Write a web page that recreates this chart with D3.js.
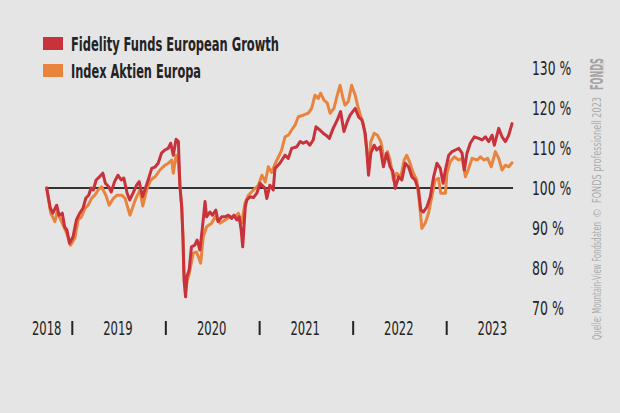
<!DOCTYPE html>
<html>
<head>
<meta charset="utf-8">
<script src="https://cdnjs.cloudflare.com/ajax/libs/d3/7.8.5/d3.min.js"></script>
<style>
  html, body { margin: 0; padding: 0; background: #e5e5e5; }
  svg { display: block; }
  text { font-family: 'Liberation Sans Narrow', 'DejaVu Sans Condensed', 'Roboto', sans-serif; }
</style>
</head>
<body>
<svg id="chart" width="620" height="413"></svg>
<script>
const seriesNames = ["Fidelity Funds European Growth", "Index Aktien Europa"];
const seriesColors = ["#c8323a", "#e8843e"];

const fidelity = [
["2018-09-23",100],["2018-10-07",95],["2018-10-17",93.7],["2018-11-01",95.7],["2018-11-10",93.2],["2018-11-23",93.7],["2018-12-02",90.3],["2018-12-11",89.5],["2018-12-21",86.2],
["2019-01-04",87.8],["2019-01-17",92],["2019-01-30",93.7],["2019-02-12",95],["2019-02-23",97.5],["2019-03-06",98.2],["2019-03-15",100],["2019-03-24",99.5],["2019-04-04",102],["2019-04-17",102.8],["2019-04-30",103.7],["2019-05-10",101.2],["2019-05-23",100.3],["2019-06-02",99],["2019-06-15",101.6],["2019-06-28",103.2],["2019-07-11",102],["2019-07-21",102.5],["2019-08-03",98.7],["2019-08-13",97],["2019-08-26",98.7],["2019-09-09",100.7],["2019-09-19",101.6],["2019-10-02",97.8],["2019-10-11",99.5],["2019-10-24",102],["2019-11-07",104.9],["2019-11-19",105.2],["2019-12-02",106.2],["2019-12-15",108.7],["2019-12-28",109.5],
["2020-01-10",109.9],["2020-01-20",111.2],["2020-01-30",108.2],["2020-02-10",112.2],["2020-02-19",111.6],["2020-02-25",100.3],["2020-03-03",95.3],["2020-03-08",87],["2020-03-12",77],["2020-03-18",72.8],["2020-03-23",77.8],["2020-04-01",79.5],["2020-04-10",85.3],["2020-04-23",85.7],["2020-05-02",87],["2020-05-13",84.5],["2020-05-23",90.3],["2020-06-02",96.6],["2020-06-08",92.8],["2020-06-21",94],["2020-07-01",93.2],["2020-07-14",94.5],["2020-07-23",91.6],["2020-08-06",92.8],["2020-08-19",92.8],["2020-09-01",93.2],["2020-09-14",92.4],["2020-09-23",93.2],["2020-10-04",92],["2020-10-13",92.8],["2020-10-21",89.5],["2020-10-27",85.3],["2020-11-06",95.3],["2020-11-12",97],["2020-11-25",97.8],["2020-12-08",97.6],["2020-12-21",98.7],
["2021-01-03",101.2],["2021-01-22",99.9],["2021-01-29",97.4],["2021-02-10",100.7],["2021-02-23",99.5],["2021-03-02",104.9],["2021-03-21",106.2],["2021-04-10",108.2],["2021-04-23",107.4],["2021-05-06",109.9],["2021-05-26",110.3],["2021-06-08",111.6],["2021-06-20",111.2],["2021-07-03",111.6],["2021-07-16",110.7],["2021-07-29",112],["2021-08-09",115.3],["2021-08-24",114.5],["2021-09-06",113.7],["2021-09-17",113.2],["2021-09-30",112.4],["2021-10-15",114.9],["2021-10-31",117],["2021-11-13",119.1],["2021-11-26",114.1],["2021-12-09",116.6],["2021-12-20",118.2],
["2022-01-09",119.9],["2022-01-22",117.8],["2022-02-04",117],["2022-02-17",113.7],["2022-02-23",109.5],["2022-03-02",103.2],["2022-03-11",108.7],["2022-03-24",110.7],["2022-04-03",109.5],["2022-04-16",110.3],["2022-04-29",105.3],["2022-05-12",108.7],["2022-05-25",105.3],["2022-06-05",104.1],["2022-06-14",99.9],["2022-06-27",102.8],["2022-07-10",102],["2022-07-23",106.2],["2022-08-05",105.3],["2022-08-18",102.8],["2022-08-31",102],["2022-09-13",99.5],["2022-09-22",94.5],["2022-10-02",94],["2022-10-16",95.3],["2022-10-29",97.8],["2022-11-11",102.8],["2022-11-24",106.2],["2022-12-07",104.9],["2022-12-18",101.2],["2022-12-27",104.5],
["2023-01-09",108.2],["2023-01-22",109.1],["2023-02-04",109.5],["2023-02-17",109.9],["2023-03-02",108.7],["2023-03-11",104.5],["2023-03-21",108.7],["2023-04-03",111.2],["2023-04-19",112.8],["2023-05-06",112.4],["2023-05-19",112],["2023-06-01",112.8],["2023-06-14",111.6],["2023-06-27",113.2],["2023-07-06",110.7],["2023-07-23",114.9],["2023-08-05",112.8],["2023-08-18",111.6],["2023-08-31",113.2],["2023-09-13",116.1]
];

const indexEuropa = [
["2018-09-23",100],["2018-10-09",93.7],["2018-10-25",91.6],["2018-11-03",94],["2018-11-20",91.6],["2018-12-10",88.7],["2018-12-25",85.7],
["2019-01-11",87.5],["2019-01-24",92],["2019-02-06",92.8],["2019-02-19",94.9],["2019-03-04",95.7],["2019-03-17",97.4],["2019-03-30",98.2],["2019-04-12",99.5],["2019-04-25",100.3],["2019-05-12",98.2],["2019-05-25",95.7],["2019-06-10",97.4],["2019-06-25",98.2],["2019-07-13",98.2],["2019-07-26",97.4],["2019-08-14",93.2],["2019-08-30",96.2],["2019-09-12",98.2],["2019-09-22",99.5],["2019-10-03",95.5],["2019-10-18",99.5],["2019-11-03",102],["2019-11-20",102.8],["2019-12-09",104.5],["2019-12-29",105.7],
["2020-01-11",106.2],["2020-01-24",107],["2020-01-30",103.7],["2020-02-10",108.2],["2020-02-19",106.2],["2020-02-25",101],["2020-03-03",95],["2020-03-08",88],["2020-03-12",79],["2020-03-19",74.5],["2020-03-25",77],["2020-04-01",78.5],["2020-04-17",83.7],["2020-04-30",84],["2020-05-16",81.2],["2020-05-26",87.8],["2020-06-08",90.3],["2020-06-28",91.2],["2020-07-11",92.8],["2020-07-30",91.2],["2020-08-19",92],["2020-09-07",92.8],["2020-09-27",92.8],["2020-10-10",93.7],["2020-10-23",91.2],["2020-11-05",96.2],["2020-11-18",98.2],["2020-12-08",99.5],["2020-12-27",100.7],
["2021-01-10",103.2],["2021-01-23",101.5],["2021-02-04",105.3],["2021-02-17",103.9],["2021-03-02",106],["2021-03-21",108.5],["2021-03-28",109.5],["2021-04-10",112.8],["2021-04-23",113.2],["2021-05-06",114.5],["2021-05-19",115.7],["2021-06-01",117.8],["2021-06-20",118.2],["2021-07-10",118.7],["2021-07-23",119.9],["2021-08-05",123.2],["2021-08-18",122.4],["2021-08-27",123.7],["2021-09-09",122],["2021-09-22",121.2],["2021-10-03",118.7],["2021-10-18",119.9],["2021-10-31",123.2],["2021-11-11",125.7],["2021-11-21",122.8],["2021-11-30",120.7],["2021-12-13",121.6],["2021-12-26",125.7],
["2022-01-09",123.2],["2022-01-18",120.7],["2022-01-31",117.8],["2022-02-10",116.1],["2022-02-20",111.2],["2022-03-02",105.3],["2022-03-11",111.6],["2022-03-24",113.7],["2022-04-06",113.2],["2022-04-19",111.6],["2022-05-02",107],["2022-05-15",109.1],["2022-05-25",107],["2022-06-07",102],["2022-06-20",103.7],["2022-07-06",102.8],["2022-07-19",107],["2022-07-29",108.2],["2022-08-11",106.2],["2022-08-24",103.7],["2022-09-06",102],["2022-09-17",96.2],["2022-09-26",89.9],["2022-10-09",91.2],["2022-10-22",93.7],["2022-11-04",97.8],["2022-11-17",102],["2022-11-30",102.4],["2022-12-09",98.7],["2022-12-27",98.7],
["2023-01-02",103.7],["2023-01-15",106.6],["2023-01-31",107.8],["2023-02-17",107],["2023-03-02",107.4],["2023-03-15",102.8],["2023-03-28",104.9],["2023-04-10",107.4],["2023-04-30",107],["2023-05-13",107.8],["2023-05-26",107],["2023-06-10",107.4],["2023-06-24",105.3],["2023-07-10",109.1],["2023-07-23",107.4],["2023-08-05",104.5],["2023-08-18",105.7],["2023-08-31",105.3],["2023-09-13",106.3]
];

const yTicks = [70, 80, 90, 100, 110, 120, 130];
const yearLabels = ["2018", "2019", "2020", "2021", "2022", "2023"];
const yearLabelDates = ["2018-09-23", "2019-06-28", "2020-06-28", "2021-06-28", "2022-06-28", "2023-06-28"];
const yearBoundaries = ["2019-01-01", "2020-01-01", "2021-01-01", "2022-01-01", "2023-01-01"];
const baselineValue = 100;
const sourceText = "Quelle: Mountain-View Fondsdaten";
const copyrightText = "FONDS professionell 2023";

const parse = d3.timeParse("%Y-%m-%d");
const svg = d3.select("#chart");
const ink = "#232323";

svg.append("rect").attr("width", 620).attr("height", 413).attr("fill", "#e5e5e5");

const x = d3.scaleTime()
  .domain([parse("2019-01-01"), parse("2023-01-01")])
  .range([72.3, 446.7]);
const y = d3.scaleLinear().domain([70, 130]).range([308, 68]);

// baseline 100 %
const first = parse(fidelity[0][0]), last = parse(fidelity[fidelity.length - 1][0]);
svg.append("line")
  .attr("x1", x(first) - 1).attr("x2", x(last) + 1)
  .attr("y1", y(baselineValue)).attr("y2", y(baselineValue))
  .attr("stroke", "#333").attr("stroke-width", 2);

const line = d3.line()
  .x(d => x(parse(d[0])))
  .y(d => y(d[1]))
  .curve(d3.curveLinear);

[indexEuropa, fidelity].forEach((s, i) => {
  svg.append("path")
    .datum(s)
    .attr("d", line)
    .attr("fill", "none")
    .attr("stroke", i === 0 ? seriesColors[1] : seriesColors[0])
    .attr("stroke-width", 3)
    .attr("stroke-linejoin", "round")
    .attr("stroke-linecap", "round");
});

// legend
const legendY = [37, 64];
const legendLen = [208, 130];
seriesNames.forEach((n, i) => {
  svg.append("rect")
    .attr("x", 43).attr("y", legendY[i]).attr("width", 20).attr("height", 13)
    .attr("fill", seriesColors[i]);
  svg.append("text")
    .attr("x", 71).attr("y", legendY[i] + 13.5)
    .attr("font-size", 19).attr("font-weight", "bold").attr("fill", ink)
    .attr("textLength", legendLen[i]).attr("lengthAdjust", "spacingAndGlyphs")
    .text(n);
});

// y axis labels (right)
svg.selectAll("text.ylab").data(yTicks).join("text")
  .attr("class", "ylab")
  .attr("x", 532).attr("y", d => y(d) + 7)
  .attr("font-size", 19).attr("fill", ink)
  .attr("textLength", d => String(d).length * 7.4 + 17)
  .attr("lengthAdjust", "spacingAndGlyphs")
  .text(d => d + " %");

// x axis labels
svg.selectAll("text.xlab").data(yearLabels).join("text")
  .attr("class", "xlab")
  .attr("x", (d, i) => x(parse(yearLabelDates[i])))
  .attr("y", 335)
  .attr("text-anchor", "middle")
  .attr("font-size", 19).attr("fill", ink)
  .attr("textLength", 29.5).attr("lengthAdjust", "spacingAndGlyphs")
  .text(d => d);

svg.selectAll("line.sep").data(yearBoundaries).join("line")
  .attr("class", "sep")
  .attr("x1", d => x(parse(d))).attr("x2", d => x(parse(d)))
  .attr("y1", 321).attr("y2", 335)
  .attr("stroke", ink).attr("stroke-width", 2);

// vertical source text
const vg = svg.append("g").attr("transform", "translate(601,340) rotate(-90)");
vg.append("text").attr("x", 0).attr("y", 0)
  .attr("font-size", 12).attr("fill", "#ababab")
  .attr("textLength", 118).attr("lengthAdjust", "spacingAndGlyphs")
  .text(sourceText);
vg.append("text").attr("x", 127).attr("y", 0)
  .attr("text-anchor", "middle")
  .attr("font-size", 11).attr("fill", "#ababab")
  .text("©");
vg.append("text").attr("x", 137).attr("y", 0)
  .attr("font-size", 12).attr("fill", "#ababab")
  .attr("textLength", 106).attr("lengthAdjust", "spacingAndGlyphs")
  .text(copyrightText);
vg.append("text").attr("x", 250).attr("y", 2)
  .attr("font-size", 17).attr("font-weight", "bold").attr("fill", "#a3a3a3")
  .attr("textLength", 32).attr("lengthAdjust", "spacingAndGlyphs")
  .text("FONDS");
vg.append("text").attr("x", 267).attr("y", 2.5)
  .attr("font-size", 4).attr("fill", "#e3b08a")
  .attr("textLength", 14).attr("lengthAdjust", "spacingAndGlyphs")
  .text("professionell");
</script>
</body>
</html>
